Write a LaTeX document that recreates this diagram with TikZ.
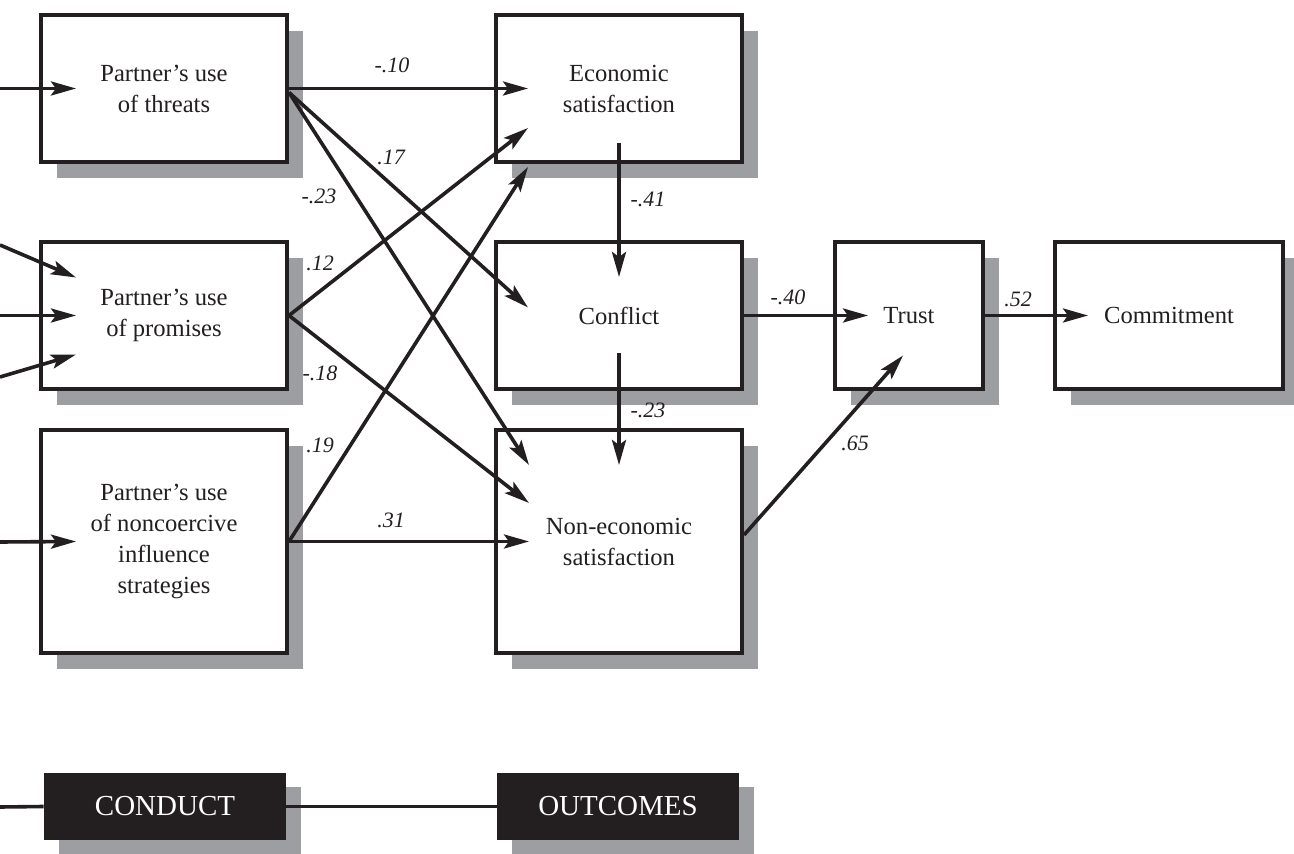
\documentclass[tikz,border=0pt]{standalone}
\usepackage{fontspec}
\setmainfont{Liberation Serif}
\usetikzlibrary{arrows.meta,shadows,calc}
\definecolor{ink}{RGB}{35,31,32}
\definecolor{shadowgray}{RGB}{157,158,162}
\begin{document}
\begin{tikzpicture}[x=0.5pt,y=-0.5pt,
  box/.style={draw=ink, line width=2pt, fill=white, text=ink, align=center,
    inner sep=0pt, minimum width=123pt, minimum height=73.5pt,
    font={\fontsize{12.3}{15.5}\selectfont},
    general shadow={fill=shadowgray, shadow xshift=8pt, shadow yshift=-8pt}},
  tallbox/.style={minimum height=111.5pt},
  stage/.style={fill=ink, text=white, align=center, inner sep=0pt,
    minimum width=121pt, minimum height=33.5pt,
    font={\fontsize{14.5}{16}\selectfont},
    general shadow={fill=shadowgray, shadow xshift=7.5pt, shadow yshift=-7pt}},
  arr/.style={draw=ink, line width=1.8pt, -{Stealth[length=12.5pt,width=7pt,inset=2.5pt]}},
  link/.style={draw=ink, line width=1.8pt},
  coef/.style={text=ink, inner sep=0pt, font={\fontsize{11}{12}\selectfont\itshape}}]
\useasboundingbox (0,0) rectangle (1294,854);

% boxes
\node[box] (threats) at (164,88.5) {Partner’s use\\of threats};
\node[box] (promises) at (164,315.5) {Partner’s use\\of promises};
\node[box,tallbox] (noncoer) at (164,541.5) {Partner’s use\\of noncoercive\\influence\\strategies};
\node[box] (econ) at (619,88.5) {Economic\\satisfaction};
\node[box] (conflict) at (619,315.5) {Conflict};
\node[box,tallbox] (noneco) at (619,541.5) {Non-economic\\satisfaction};
\node[box,minimum width=74pt] (trust) at (909,315.5) {Trust};
\node[box,minimum width=114pt] (commit) at (1169,315.5) {Commitment};
\node[stage] (conduct) at (165,806.5) {CONDUCT};
\node[stage] (outcomes) at (618,806.5) {OUTCOMES};

% free ends on the left
\coordinate (inT) at (0,88.5);
\coordinate (inP1) at (0,245);
\coordinate (inP2) at (0,315.5);
\coordinate (inP3) at (0,377);
\coordinate (inN) at (0,542);
\coordinate (inC) at (0,807);

% inputs
\draw[arr] (inT) -- ([xshift=18.5pt]threats.west);
\draw[arr] (inP1) -- ([xshift=18.5pt,yshift=19pt]promises.west);
\draw[arr] (inP2) -- ([xshift=18.5pt]promises.west);
\draw[arr] (inP3) -- ([xshift=18.5pt,yshift=-19.5pt]promises.west);
\draw[arr] (inN) -- ([xshift=18.5pt]noncoer.west);

% from threats
\draw[arr] (threats.east) -- ([xshift=17pt]econ.west);
\draw[arr] ([yshift=-2pt]threats.east) -- ([xshift=17pt,yshift=4pt]conflict.west);
\draw[arr] ([yshift=-2pt]threats.east) -- ([xshift=17.5pt,yshift=38.25pt]noneco.west);
% from promises
\draw[arr] (promises.east) -- ([xshift=17pt,yshift=-19.75pt]econ.west);
\draw[arr] (promises.east) -- ([xshift=17.5pt,yshift=19.25pt]noneco.west);
% from noncoercive
\draw[arr] (noncoer.east) -- ([xshift=17pt,yshift=-39.25pt]econ.west);
\draw[arr] (noncoer.east) -- ([xshift=17.5pt]noneco.west);
% outcomes chain
\draw[arr] ([yshift=-27.25pt]econ.center) -- ([yshift=19.25pt]conflict.center);
\draw[arr] ([yshift=-18.75pt]conflict.center) -- ([yshift=38.25pt]noneco.center);
\draw[arr] (conflict.east) -- ([xshift=17.5pt]trust.west);
\draw[arr] ([yshift=3.25pt]noneco.east) -- ([xshift=-3pt,yshift=-20pt]trust.center);
\draw[arr] (trust.east) -- ([xshift=17.5pt]commit.west);

% bottom band
\draw[link] (inC) -- (conduct.west);
\draw[link] (conduct.east) -- (outcomes.west);

% coefficients
\node[coef] (c1) at (392,65) {-.10};
\node[coef] (c2) at (391,157) {.17};
\node[coef] (c3) at (319,196) {-.23};
\node[coef] (c4) at (320,263) {.12};
\node[coef] (c5) at (320,373) {-.18};
\node[coef] (c6) at (320,445) {.19};
\node[coef] (c7) at (391,520) {.31};
\node[coef] (c8) at (648,199) {-.41};
\node[coef] (c9) at (648,410) {-.23};
\node[coef] (c10) at (788,297) {-.40};
\node[coef] (c11) at (855,443) {.65};
\node[coef] (c12) at (1018,299) {.52};
\end{tikzpicture}
\end{document}
